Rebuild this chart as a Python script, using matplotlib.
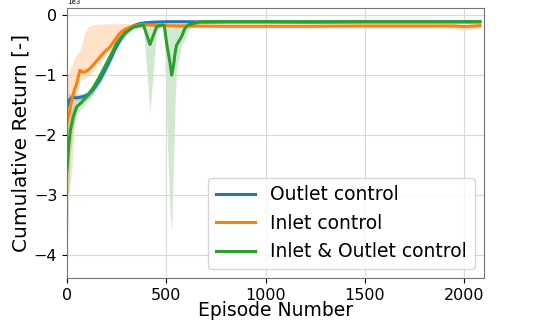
import matplotlib.pyplot as plt

# Outlet control
blue_x = [0, 10, 25, 50, 80, 106, 130, 166, 190, 217, 240, 267, 290, 317, 340, 368, 400, 450, 500, 600, 700, 800, 1000, 1200, 1500, 1800, 2080]
blue_y = [-1530, -1420, -1370, -1380, -1360, -1330, -1250, -1080, -930, -750, -580, -420, -300, -220, -170, -140, -125, -115, -110, -110, -115, -110, -110, -115, -110, -110, -110]
blue_lo = [-1600, -1500, -1430, -1430, -1420, -1400, -1320, -1160, -1010, -820, -650, -480, -350, -260, -200, -165, -150, -140, -135, -135, -140, -135, -135, -140, -135, -135, -135]
blue_hi = [-1300, -1300, -1300, -1320, -1300, -1260, -1170, -1000, -850, -680, -510, -360, -250, -180, -145, -120, -105, -95, -90, -90, -95, -90, -90, -95, -90, -90, -90]

# Inlet control
orange_x = [0, 10, 24, 37, 49, 65, 78, 91, 104, 116, 140, 166, 190, 217, 240, 267, 290, 317, 340, 368, 400, 450, 500, 600, 800, 1000, 1200, 1500, 1800, 1950, 2000, 2080]
orange_y = [-1800, -1650, -1420, -1250, -1140, -920, -950, -945, -920, -890, -800, -700, -610, -530, -420, -300, -240, -200, -180, -160, -160, -170, -175, -180, -185, -185, -185, -180, -180, -180, -190, -175]
orange_lo = [-3000, -2950, -2600, -1900, -1400, -1080, -1080, -1060, -1030, -1000, -900, -780, -680, -590, -470, -340, -270, -230, -205, -185, -185, -195, -200, -205, -210, -210, -210, -205, -205, -215, -260, -200]
orange_hi = [-1000, -950, -850, -720, -650, -580, -440, -280, -210, -170, -155, -150, -145, -145, -145, -140, -140, -140, -140, -140, -140, -145, -150, -155, -160, -160, -160, -155, -155, -150, -160, -150]

# Inlet & Outlet control
green_x = [0, 8, 18, 31, 49, 75, 99, 125, 150, 175, 200, 225, 250, 275, 300, 334, 385, 418, 452, 479, 490, 502, 519, 527, 536, 544, 552, 577, 594, 611, 670, 700, 800, 1000, 1200, 1500, 1800, 2080]
green_y = [-2600, -2200, -1900, -1700, -1530, -1450, -1360, -1250, -1110, -960, -800, -640, -470, -360, -280, -200, -165, -490, -190, -165, -170, -470, -800, -1000, -860, -640, -500, -360, -220, -165, -110, -110, -110, -110, -110, -110, -110, -110]
green_lo = [-4200, -3000, -2300, -1900, -1650, -1550, -1450, -1340, -1200, -1050, -880, -710, -540, -420, -330, -240, -200, -1610, -250, -200, -220, -1800, -3300, -3610, -2500, -1500, -900, -500, -400, -250, -140, -135, -135, -135, -135, -135, -135, -135]
green_hi = [-1800, -1700, -1600, -1500, -1420, -1350, -1280, -1170, -1030, -880, -720, -570, -410, -310, -240, -170, -140, -170, -150, -140, -140, -170, -200, -250, -200, -180, -170, -150, -140, -130, -95, -90, -90, -90, -90, -90, -90, -90]

labels = ["Outlet control", "Inlet control", "Inlet & Outlet control"]
colors = ["#1f77b4", "#ff7f0e", "#2ca02c"]


def main() -> None:
    fig = plt.figure(figsize=(5.38, 3.24), dpi=100)
    ax = fig.add_axes([0.1245, 0.142, 0.775, 0.833])

    series = [
        (blue_x, blue_y, blue_lo, blue_hi),
        (orange_x, orange_y, orange_lo, orange_hi),
        (green_x, green_y, green_lo, green_hi),
    ]
    for (x, y, lo, hi), lab, c in zip(series, labels, colors):
        ax.fill_between(x, lo, hi, color=c, alpha=0.22, lw=0)
        ax.plot(x, y, color=c, lw=2.2, label=lab)

    ax.set_xlim(0, 2100)
    ax.set_ylim(-4383, 117)
    ax.ticklabel_format(axis="y", style="sci", scilimits=(3, 3))
    ax.yaxis.get_offset_text().set_fontsize(5)
    ax.set_xticks([0, 500, 1000, 1500, 2000])
    ax.tick_params(labelsize=11.5)
    ax.grid(color="0.85", lw=0.8)
    for s in ax.spines.values():
        s.set_color("0.45")

    ax.set_xlabel("Episode Number", fontsize=13.5, labelpad=-1)
    ax.set_ylabel("Cumulative Return [-]", fontsize=14.5, labelpad=2)
    ax.legend(loc="lower right", fontsize=13.5, handlelength=2.1)

    plt.savefig("out.png", dpi=100)


if __name__ == "__main__":
    main()
